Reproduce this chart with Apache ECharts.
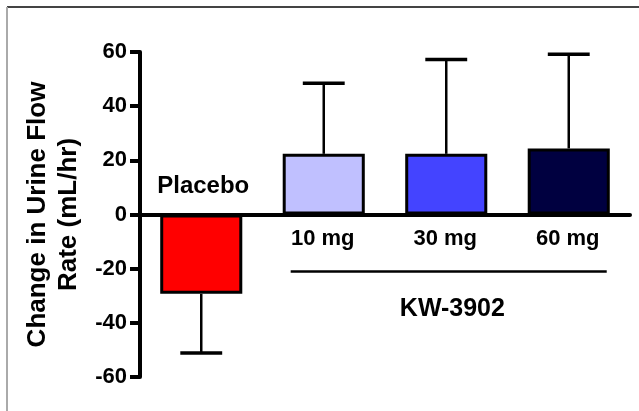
<!DOCTYPE html>
<html>
<head>
<meta charset="utf-8">
<script src="https://cdn.jsdelivr.net/npm/echarts@6/dist/echarts.min.js"></script>
<style>
html,body{margin:0;padding:0;background:#fff;}
#main{width:639px;height:411px;}
</style>
</head>
<body>
<div id="main"></div>
<script>
const categories = ['Placebo', '10 mg', '30 mg', '60 mg'];
const meanValues = [-29.3, 22.4, 22.4, 24.4];
const sdValues = [21.8, 26.1, 34.8, 34.8];
const barColors = ['#ff0000', '#c0c0ff', '#4444ff', '#000040'];
const yMin = -60, yMax = 60, yInterval = 20;
const yAxisTitle = 'Change in Urine Flow\nRate (mL/hr)';
const groupLabel = 'KW-3902';

const FONT = "'Liberation Sans', Arial, sans-serif";
const chart = echarts.init(document.getElementById('main'));

const option = {
  animation: false,
  backgroundColor: '#fff',
  grid: { left: 140, right: 9, top: 52, bottom: 34 },
  xAxis: {
    type: 'category',
    data: categories,
    axisLine: { onZero: true, lineStyle: { color: '#000', width: 4 } },
    axisTick: { show: false },
    axisLabel: { show: false },
    splitLine: { show: false }
  },
  yAxis: {
    type: 'value',
    min: yMin, max: yMax, interval: yInterval,
    name: yAxisTitle,
    nameLocation: 'middle',
    nameGap: 56,
    nameTextStyle: {
      color: '#000', fontFamily: FONT, fontWeight: 'bold', fontSize: 26, lineHeight: 31
    },
    axisLine: { show: true, lineStyle: { color: '#000', width: 4 } },
    axisTick: { show: true, length: 10, lineStyle: { color: '#000', width: 4 } },
    axisLabel: {
      margin: 13, color: '#000', fontFamily: FONT, fontWeight: 'bold', fontSize: 22
    },
    splitLine: { show: false }
  },
  series: [
    {
      type: 'custom',
      z: 1,
      data: categories.map((c, i) => [i, meanValues[i], sdValues[i]]),
      renderItem: function (params, api) {
        const x = api.value(0), m = api.value(1), sd = api.value(2);
        const end = m >= 0 ? m + sd : m - sd;
        const p1 = api.coord([x, m]);
        const p2 = api.coord([x, end]);
        const half = api.size([1, 0])[0] * 0.171;
        return {
          type: 'group',
          children: [
            { type: 'line', shape: { x1: p1[0], y1: p1[1], x2: p2[0], y2: p2[1] },
              style: { stroke: '#000', lineWidth: 2.5 } },
            { type: 'line', shape: { x1: p2[0] - half, y1: p2[1], x2: p2[0] + half, y2: p2[1] },
              style: { stroke: '#000', lineWidth: 3.5 } }
          ]
        };
      }
    },
    {
      type: 'bar',
      z: 2,
      barWidth: '67%',
      data: meanValues.map((v, i) => ({
        value: v,
        itemStyle: { color: barColors[i], borderColor: '#000', borderWidth: 3 }
      }))
    }
  ]
};
chart.setOption(option);

// Category and group labels positioned through the chart's own scales
const px = (cat, val) => chart.convertToPixel({ gridIndex: 0 }, [cat, val]);
const catW = px(categories[1], 0)[0] - px(categories[0], 0)[0];
const zeroY = px(categories[0], 0)[1];
const labelFont = 'bold 22px ' + FONT;

const graphics = [
  { type: 'line', shape: { x1: 7, y1: 7, x2: 639, y2: 7 }, style: { stroke: '#444', lineWidth: 2 } },
  { type: 'line', shape: { x1: 7, y1: 7, x2: 7, y2: 411 }, style: { stroke: '#aaa', lineWidth: 2 } }
];
categories.forEach((c, i) => {
  const p = px(c, 0);
  if (meanValues[i] < 0) {
    graphics.push({ type: 'text', x: p[0] + 2, y: zeroY - 28,
      style: { text: c, fill: '#000', font: 'bold 24px ' + FONT, align: 'center', verticalAlign: 'middle' } });
  } else {
    graphics.push({ type: 'text', x: p[0] - 1, y: zeroY + 24,
      style: { text: c, fill: '#000', font: labelFont, align: 'center', verticalAlign: 'middle' } });
  }
});
const pL = px(categories[1], -21);
const pR = px(categories[3], -21);
const pK = px(categories[2], -35);
graphics.push(
  { type: 'line', shape: { x1: pL[0] - 0.27 * catW, y1: pL[1], x2: pR[0] + 0.31 * catW, y2: pR[1] },
    style: { stroke: '#000', lineWidth: 2.5 } },
  { type: 'text', x: pK[0] + 0.05 * catW, y: pK[1],
    style: { text: groupLabel, fill: '#000', font: 'bold 25px ' + FONT, align: 'center', verticalAlign: 'middle' } }
);
chart.setOption({ graphic: graphics });
</script>
</body>
</html>
